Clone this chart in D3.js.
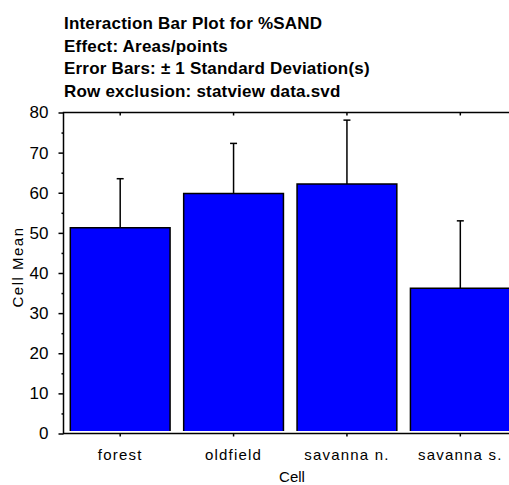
<!DOCTYPE html>
<html>
<head>
<meta charset="utf-8">
<script src="https://cdn.jsdelivr.net/npm/d3@7"></script>
<style>
  body { margin: 0; background: #fff; }
  svg { display: block; font-family: "Liberation Sans", Arial, sans-serif; }
</style>
</head>
<body>
<svg id="chart" width="509" height="485"></svg>
<script>
// values
var cells = ["forest", "oldfield", "savanna n.", "savanna s."];
var means = [51.3, 59.8, 62.2, 36.2];
var sds = [12.2, 12.5, 15.9, 16.8];
var yTicks = [0, 10, 20, 30, 40, 50, 60, 70, 80];
var titleLines = [
    "Interaction Bar Plot for %SAND",
    "Effect: Areas/points",
    "Error Bars: \u00b1 1 Standard Deviation(s)",
    "Row exclusion: statview data.svd"
];

var svg = d3.select("#chart");

var plotLeft = 63.5, plotRight = 517, plotTop = 112.5, plotBottom = 433.5;

var x = d3.scaleBand()
    .domain(cells)
    .range([plotLeft, plotRight])
    .paddingInner(0.12)
    .paddingOuter(0.06);

var y = d3.scaleLinear()
    .domain([0, 80])
    .range([plotBottom, plotTop]);

// title
svg.append("g")
    .selectAll("text")
    .data(titleLines)
    .enter().append("text")
    .attr("x", 64)
    .attr("y", function (d, i) { return 29 + i * 22.5; })
    .style("font-size", "17px")
    .style("font-weight", "bold")
    .style("letter-spacing", "0.2px")
    .text(function (d) { return d; });

// bars
var data = cells.map(function (c, i) { return {cell: c, mean: means[i], sd: sds[i]}; });

svg.append("g")
    .selectAll("path")
    .data(data)
    .enter().append("path")
    .attr("d", function (d) {
        var x0 = x(d.cell), x1 = x0 + x.bandwidth(), y0 = y(0) - 2.5, y1 = y(d.mean);
        return "M" + x0 + "," + y0 + "V" + y1 + "H" + x1 + "V" + y0;
    })
    .attr("fill", "#0000ff")
    .attr("stroke", "#000")
    .attr("stroke-width", 1.5);

// error bars (upper half only)
var err = svg.append("g")
    .attr("stroke", "#000")
    .attr("stroke-width", 1.5);

err.selectAll("line.v")
    .data(data)
    .enter().append("line")
    .attr("class", "v")
    .attr("x1", function (d) { return x(d.cell) + x.bandwidth() / 2; })
    .attr("x2", function (d) { return x(d.cell) + x.bandwidth() / 2; })
    .attr("y1", function (d) { return y(d.mean); })
    .attr("y2", function (d) { return y(d.mean + d.sd); });

err.selectAll("line.cap")
    .data(data)
    .enter().append("line")
    .attr("class", "cap")
    .attr("x1", function (d) { return x(d.cell) + x.bandwidth() / 2 - 3.5; })
    .attr("x2", function (d) { return x(d.cell) + x.bandwidth() / 2 + 3.5; })
    .attr("y1", function (d) { return y(d.mean + d.sd); })
    .attr("y2", function (d) { return y(d.mean + d.sd); });

// y axis
var yAxis = svg.append("g")
    .attr("transform", "translate(" + plotLeft + ",0)")
    .call(d3.axisLeft(y).tickValues(yTicks).tickSize(5).tickPadding(10));
yAxis.select(".domain").remove();
yAxis.selectAll("line").attr("stroke-width", 1.5);
yAxis.selectAll("text").style("font-size", "17px").attr("fill", "#000");

// minor ticks
var minor = svg.append("g")
    .attr("transform", "translate(" + plotLeft + ",0)")
    .call(d3.axisLeft(y).tickValues(d3.range(5, 80, 10)).tickSize(2).tickFormat(""));
minor.select(".domain").remove();
minor.selectAll("line").attr("stroke-width", 1.5);

// x axis
var xAxis = svg.append("g")
    .attr("transform", "translate(0," + plotBottom + ")")
    .call(d3.axisBottom(x).tickSize(3).tickPadding(13));
xAxis.select(".domain").remove();
xAxis.selectAll("line").attr("stroke-width", 1.5);
xAxis.selectAll("text")
    .style("font-size", "15px")
    .style("letter-spacing", "1.2px")
    .attr("fill", "#000");

// top ticks
var topAxis = svg.append("g")
    .attr("transform", "translate(0," + plotTop + ")")
    .call(d3.axisBottom(x).tickSize(3).tickFormat(""));
topAxis.select(".domain").remove();
topAxis.selectAll("line").attr("stroke-width", 1.5);

// frame
svg.append("path")
    .attr("d", "M" + plotRight + "," + plotTop + "H" + plotLeft + "V" + plotBottom + "H" + plotRight)
    .attr("fill", "none")
    .attr("stroke", "#000")
    .attr("stroke-width", 1.5);

// axis titles
svg.append("text")
    .attr("x", 292)
    .attr("y", 482)
    .attr("text-anchor", "middle")
    .style("font-size", "15px")
    .text("Cell");

svg.append("text")
    .attr("transform", "translate(23,267) rotate(-90)")
    .attr("text-anchor", "middle")
    .style("font-size", "15px")
    .style("letter-spacing", "1.5px")
    .text("Cell Mean");
</script>
</body>
</html>
